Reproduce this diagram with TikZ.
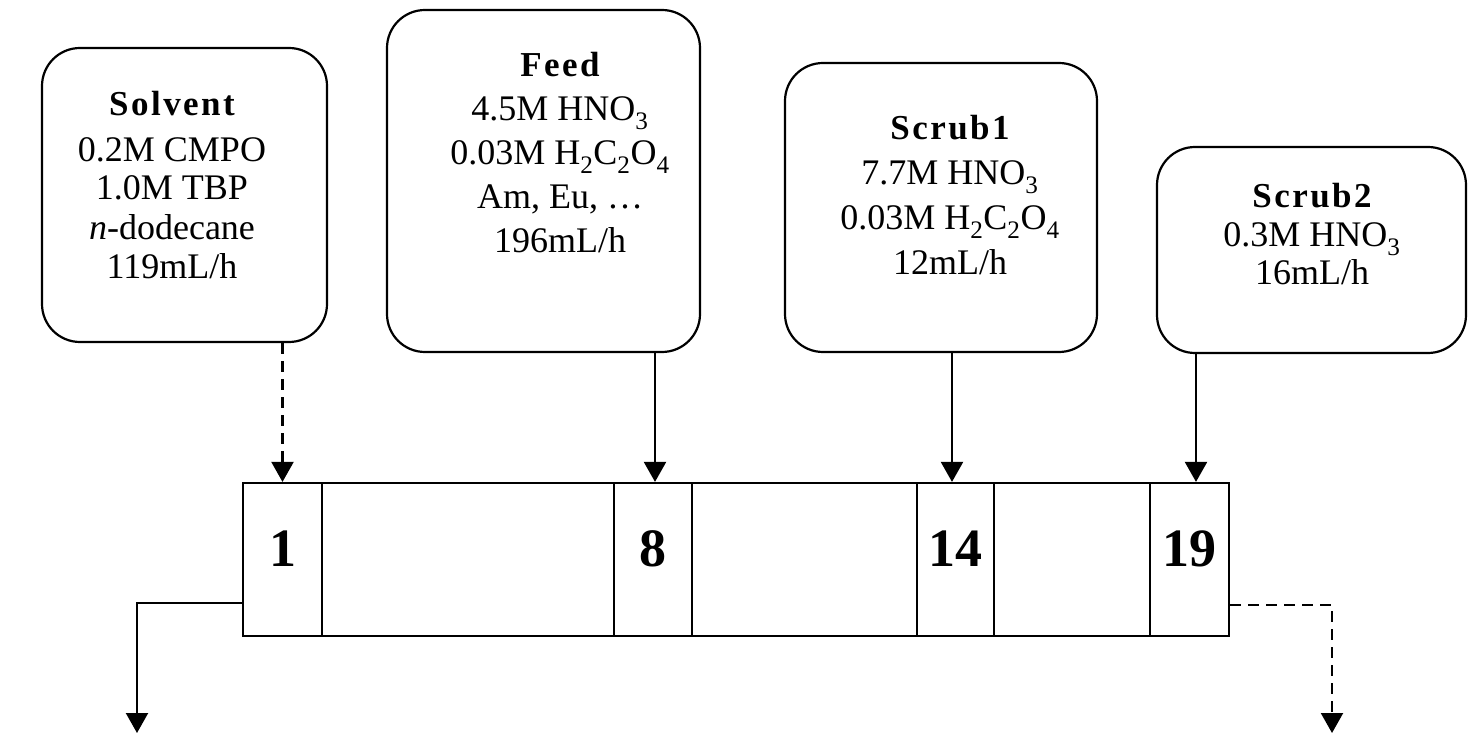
\documentclass[tikz,border=0pt]{standalone}
\usepackage{fontspec}
\setmainfont{Liberation Serif}
\usetikzlibrary{arrows.meta}
\begin{document}
\begin{tikzpicture}[x=1pt,y=-1pt,
  fbox/.style={draw, line width=2.2pt, rounded corners=38pt, inner sep=0pt},
  cell/.style={draw, line width=2.2pt, inner sep=0pt, minimum height=153pt},
  ln/.style={anchor=base, inner sep=0pt, font=\fontsize{36}{40}\selectfont},
  hd/.style={anchor=base, inner sep=0pt, font=\fontsize{35}{40}\selectfont\bfseries\addfontfeature{LetterSpace=7}},
  num/.style={anchor=base, inner sep=0pt, font=\fontsize{54}{60}\selectfont\bfseries},
  conn/.style={line width=2.2pt, -{Triangle[width=22pt,length=20pt]}},
  dconn/.style={conn, dash pattern=on 11pt off 7pt}]
\useasboundingbox (0,0) rectangle (1468,743);

% feed boxes
\node[fbox, minimum width=285pt, minimum height=294pt] (solvent) at (184.5,195) {};
\node[fbox, minimum width=313pt, minimum height=342pt] (feed) at (543.5,181) {};
\node[fbox, minimum width=312pt, minimum height=289pt] (scrub1) at (941,207.5) {};
\node[fbox, minimum width=309pt, minimum height=206pt] (scrub2) at (1311.5,250) {};

% texts
\node[hd] (s1) at (172,116) {Solvent};
\node[ln] (s2) at (172,162) {0.2M CMPO};
\node[ln] (s3) at (172,200) {1.0M TBP};
\node[ln] (s4) at (172,240) {\textit{n}-dodecane};
\node[ln] (s5) at (172,279) {119mL/h};

\node[hd] (f1) at (560,77) {Feed};
\node[ln] (f2) at (560,121) {4.5M HNO\textsubscript{3}};
\node[ln] (f3) at (560,165) {0.03M H\textsubscript{2}C\textsubscript{2}O\textsubscript{4}};
\node[ln] (f4) at (560,209) {Am, Eu, \dots};
\node[ln] (f5) at (560,253) {196mL/h};

\node[hd] (a1) at (950,140) {Scrub1};
\node[ln] (a2) at (950,185) {7.7M HNO\textsubscript{3}};
\node[ln] (a3) at (950,230) {0.03M H\textsubscript{2}C\textsubscript{2}O\textsubscript{4}};
\node[ln] (a4) at (950,275) {12mL/h};

\node[hd] (b1) at (1312,208) {Scrub2};
\node[ln] (b2) at (1312,247) {0.3M HNO\textsubscript{3}};
\node[ln] (b3) at (1312,285) {16mL/h};

% column cells
\node[cell, minimum width=79pt] (c1) at (282.5,559.5) {};
\node[cell, minimum width=292pt] (g1) at (468,559.5) {};
\node[cell, minimum width=78pt] (c8) at (653,559.5) {};
\node[cell, minimum width=225pt] (g2) at (804.5,559.5) {};
\node[cell, minimum width=77pt] (c14) at (955.5,559.5) {};
\node[cell, minimum width=156pt] (g3) at (1072,559.5) {};
\node[cell, minimum width=79pt] (c19) at (1189.5,559.5) {};

\node[num] (n1) at (282.5,566) {1};
\node[num] (n8) at (653,566) {8};
\node[num] (n14) at (955.5,566) {14};
\node[num] (n19) at (1189.5,566) {19};

% inlet arrows
\draw[dconn] (solvent.south -| c1.north) -- (c1.north);
\draw[conn] ([xshift=2pt]feed.south -| c8.north) -- ([xshift=2pt]c8.north);
\draw[conn] ([xshift=-3.5pt]scrub1.south -| c14.north) -- ([xshift=-3.5pt]c14.north);
\draw[conn] ([xshift=6.5pt]scrub2.south -| c19.north) -- ([xshift=6.5pt]c19.north);

% outlet arrows
\coordinate (lout) at (137,733);
\coordinate (rout) at (1332,733);
\draw[conn] ([yshift=-43.5pt]c1.west) -| (lout);
\draw[dconn] ([yshift=-45.5pt]c19.east) -| (rout);
\end{tikzpicture}
\end{document}
